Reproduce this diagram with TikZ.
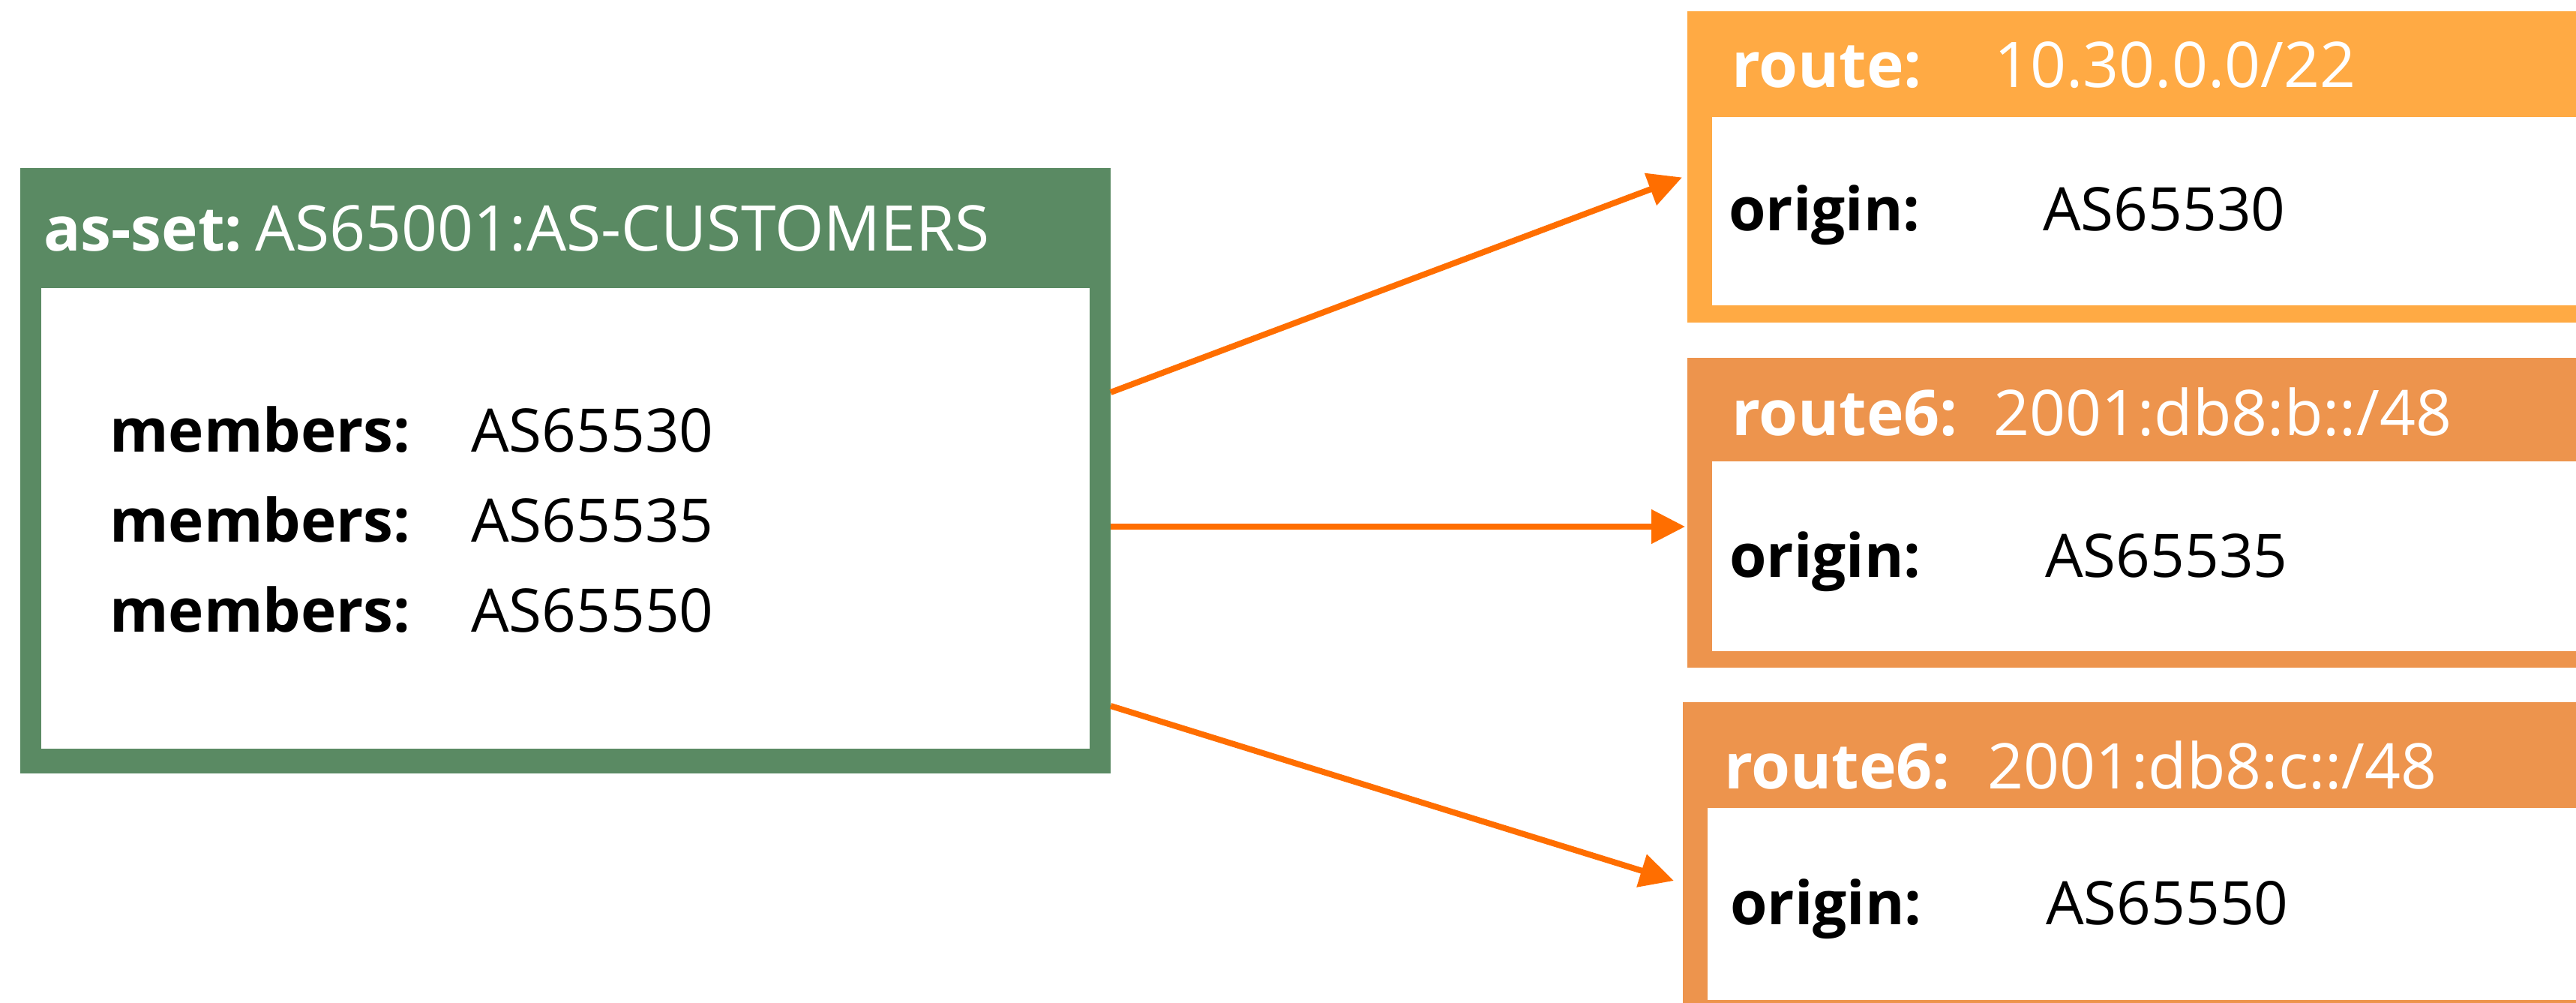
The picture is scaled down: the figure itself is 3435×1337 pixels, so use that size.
\documentclass[tikz,border=0pt]{standalone}
\usepackage{fontspec}
\setmainfont{Open Sans}
\usetikzlibrary{arrows.meta}

\definecolor{setgreen}{HTML}{5A8A63}
\definecolor{routeor}{HTML}{FFAA44}
\definecolor{route6or}{HTML}{ED944D}
\definecolor{linkor}{HTML}{FF6E00}

\begin{document}
\begin{tikzpicture}[x=1pt, y=-1pt,
        box/.style={rectangle, draw=none, inner sep=0pt, outer sep=0pt},
        body/.style={box, fill=white},
        txt/.style={anchor=base west, inner sep=0pt, font=\fontsize{80}{90}\selectfont},
        head/.style={txt, text=white, font=\fontsize{84}{90}\selectfont},
        link/.style={line width=8pt, draw=linkor, -{Triangle[length=45pt,width=44pt]}}]
        \useasboundingbox (0,0) rectangle (3435,1337);
        \clip (0,0) rectangle (3435,1337);

        % as-set object
        \node[box, fill=setgreen, minimum width=1454pt, minimum height=807pt] (S) at (754,627.5) {};
        \node[body, minimum width=1398pt, minimum height=614pt] (SB) at (754,691) {};
        \node[head, font=\fontsize{82}{90}\selectfont] (SK) at (58,335) {\textbf{as-set:}};
        \node[head] (SV) at (340,335) {AS65001:AS-CUSTOMERS};
        \node[txt] (M1) at (146,602) {\textbf{members:}};
        \node[txt] (V1) at (628,602) {AS65530};
        \node[txt] (M2) at (146,722) {\textbf{members:}};
        \node[txt] (V2) at (628,722) {AS65535};
        \node[txt] (M3) at (146,842) {\textbf{members:}};
        \node[txt] (V3) at (628,842) {AS65550};

        % route objects
        \node[box, fill=routeor, minimum width=1250pt, minimum height=415pt] (R1) at (2875,222.5) {};
        \node[body, minimum width=1217pt, minimum height=251pt] (R1B) at (2891.5,281.5) {};
        \node[head] (R1K) at (2309,117) {\textbf{route:}};
        \node[head] (R1V) at (2659,117) {10.30.0.0/22};
        \node[txt] (O1K) at (2305,308) {\textbf{origin:}};
        \node[txt] (O1V) at (2724,308) {AS65530};

        \node[box, fill=route6or, minimum width=1250pt, minimum height=413pt] (R2) at (2875,683.5) {};
        \node[body, minimum width=1217pt, minimum height=253pt] (R2B) at (2891.5,741.5) {};
        \node[head] (R2K) at (2309,580) {\textbf{route6:}};
        \node[head] (R2V) at (2658,580) {2001:db8:b::/48};
        \node[txt] (O2K) at (2306,769) {\textbf{origin:}};
        \node[txt] (O2V) at (2727,769) {AS65535};

        \node[box, fill=route6or, minimum width=1256pt, minimum height=424pt] (R3) at (2872,1148) {};
        \node[body, minimum width=1223pt, minimum height=256pt] (R3B) at (2888.5,1205) {};
        \node[head] (R3K) at (2299,1051) {\textbf{route6:}};
        \node[head] (R3V) at (2650,1051) {2001:db8:c::/48};
        \node[txt] (O3K) at (2307,1232) {\textbf{origin:}};
        \node[txt] (O3V) at (2728,1232) {AS65550};

        % members -> origins
        \draw[link] (S.east |- 0,523) -- ([shift={(-7,14)}]R1.west);
        \draw[link] (S.east |- 0,702) -- ([shift={(-3,18.5)}]R2.west);
        \draw[link] (S.east |- 0,941) -- ([shift={(-12,26)}]R3.west);
\end{tikzpicture}
\end{document}
